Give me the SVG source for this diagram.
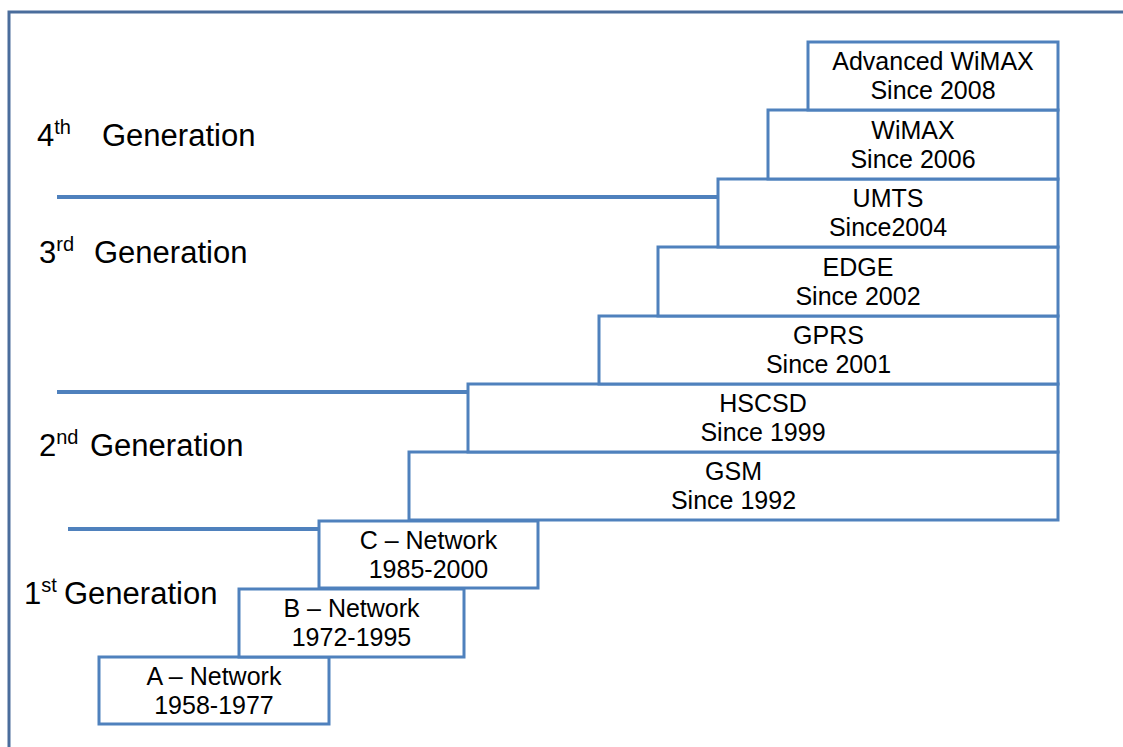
<svg xmlns="http://www.w3.org/2000/svg" width="1123" height="747" viewBox="0 0 1123 747">
  <style>
    .box rect { fill: #ffffff; stroke: #4f81bd; stroke-width: 3; }
    .box text { font-family: "Liberation Sans", Arial, sans-serif; font-size: 25px; fill: #000000; text-anchor: middle; }
    .gen { font-family: "Liberation Sans", Arial, sans-serif; font-size: 31px; fill: #000000; }
    .sup { font-size: 20px; }
    .divider { stroke: #4f81bd; stroke-width: 4; fill: none; }
    .frame { stroke: #4a6d9c; stroke-width: 3; fill: none; }
  </style>

  <rect x="0" y="0" width="1123" height="747" fill="#ffffff"/>

  <!-- outer frame -->
  <path class="frame" d="M9,747 V12 H1123"/>

  <!-- generation dividers -->
  <g id="connectors">
    <line class="divider" x1="57" y1="197" x2="718" y2="197"/>
    <line class="divider" x1="57" y1="392" x2="468" y2="392"/>
    <line class="divider" x1="68" y1="529" x2="318" y2="529" stroke="#2f5580"/>
  </g>

  <!-- generation labels -->
  <g id="gen4"><text class="gen" x="37" y="146">4<tspan class="sup" dy="-12">th</tspan><tspan x="102" dy="12">Generation</tspan></text></g>
  <g id="gen3"><text class="gen" x="39" y="263">3<tspan class="sup" dy="-12">rd</tspan><tspan x="94" dy="12">Generation</tspan></text></g>
  <g id="gen2"><text class="gen" x="39" y="456">2<tspan class="sup" dy="-12">nd</tspan><tspan x="90" dy="12">Generation</tspan></text></g>
  <g id="gen1"><text class="gen" x="24" y="604">1<tspan class="sup" dy="-12">st</tspan><tspan x="64" dy="12">Generation</tspan></text></g>

  <!-- technology boxes, bottom to top -->
  <g id="a-network" class="box">
    <rect x="99" y="657" width="230" height="67"/>
    <text x="214" y="685">A – Network</text>
    <text x="214" y="714">1958-1977</text>
  </g>
  <g id="b-network" class="box">
    <rect x="239" y="589" width="225" height="68"/>
    <text x="351.5" y="617">B – Network</text>
    <text x="351.5" y="646">1972-1995</text>
  </g>
  <g id="c-network" class="box">
    <rect x="319" y="521" width="219" height="67"/>
    <text x="428.5" y="549">C – Network</text>
    <text x="428.5" y="578">1985-2000</text>
  </g>
  <g id="gsm" class="box">
    <rect x="409" y="452" width="649" height="68"/>
    <text x="733.5" y="480">GSM</text>
    <text x="733.5" y="509">Since 1992</text>
  </g>
  <g id="hscsd" class="box">
    <rect x="468" y="384" width="590" height="68"/>
    <text x="763" y="412">HSCSD</text>
    <text x="763" y="441">Since 1999</text>
  </g>
  <g id="gprs" class="box">
    <rect x="599" y="316" width="459" height="68"/>
    <text x="828.5" y="344">GPRS</text>
    <text x="828.5" y="373">Since 2001</text>
  </g>
  <g id="edge" class="box">
    <rect x="658" y="247" width="400" height="69"/>
    <text x="858" y="276">EDGE</text>
    <text x="858" y="305">Since 2002</text>
  </g>
  <g id="umts" class="box">
    <rect x="718" y="179" width="340" height="68"/>
    <text x="888" y="207">UMTS</text>
    <text x="888" y="236">Since2004</text>
  </g>
  <g id="wimax" class="box">
    <rect x="768" y="110" width="290" height="69"/>
    <text x="913" y="139">WiMAX</text>
    <text x="913" y="168">Since 2006</text>
  </g>
  <g id="advanced-wimax" class="box">
    <rect x="808" y="42" width="250" height="68"/>
    <text x="933" y="70">Advanced WiMAX</text>
    <text x="933" y="99">Since 2008</text>
  </g>
</svg>
